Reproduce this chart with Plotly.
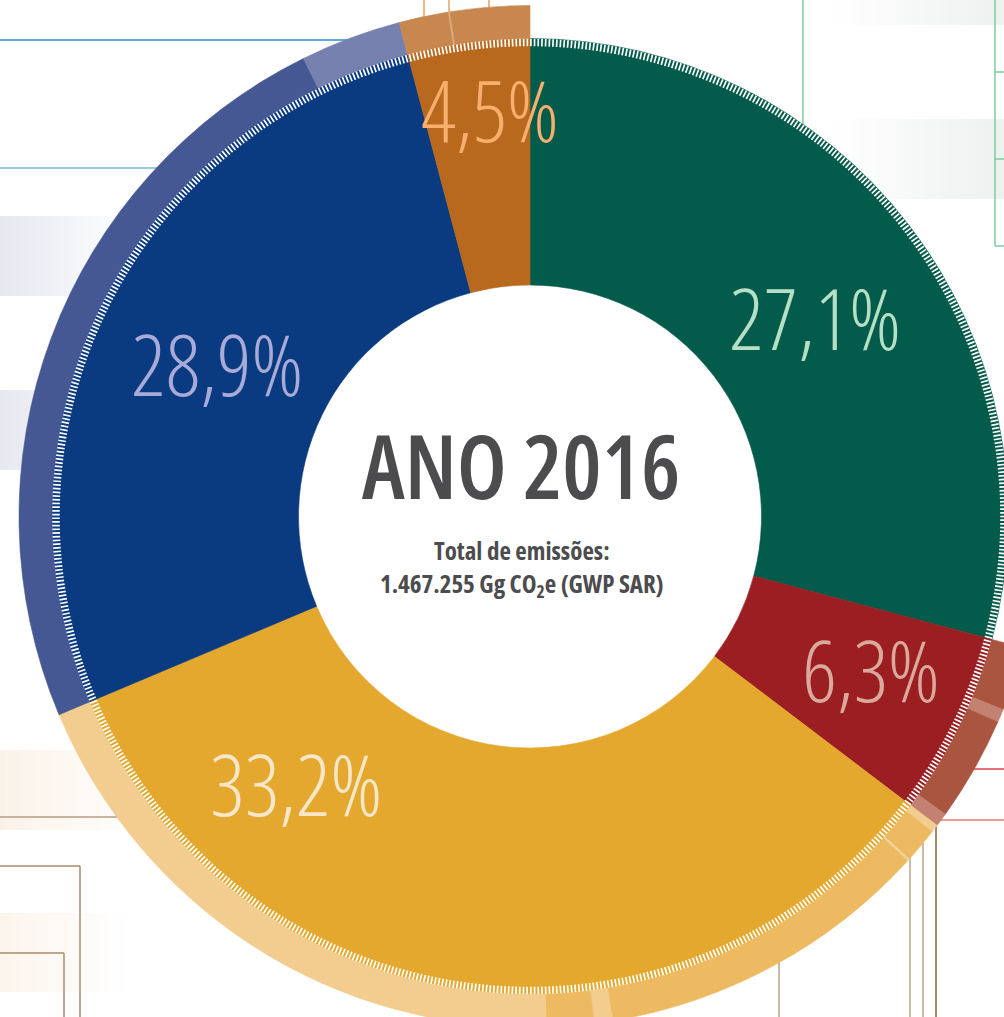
import numpy as np
import plotly.graph_objects as go

# ---------------- data ----------------
sectors = ["Mudança de uso da terra e florestas", "Processos industriais",
           "Agropecuária", "Energia", "Resíduos"]
# arc sizes as drawn (percent of the full circle), clockwise from 12 o'clock
arc_pct = [29.14, 6.19, 33.33, 27.22, 4.12]
# printed labels
label_text = ["27,1%", "6,3%", "33,2%", "28,9%", "4,5%"]

# outer ring sub-segments (percent of circle), per sector, in drawing order
outer_lulucf = []
outer_ippu = [2.03, 0.42, 3.31, 0.44]
outer_agro = [0.25, 1.11, 0.07, 10.65, 0.58, 1.50, 19.17]
outer_energia = [24.03, 3.19]
outer_residuos = [1.56, 0.06, 2.50]

title_text = "ANO 2016"
subtitle_1 = "Total de emissões:"
subtitle_2 = "1.467.255 Gg CO<sub>2</sub>e (GWP SAR)"

# ---------------- styles ----------------
inner_colors = ["#035B4B", "#9A1E22", "#E5A82E", "#0A3A80", "#B8691E"]
label_colors = ["#B5E0C6", "#DBA99C", "#F7E7C9", "#A8ABD7", "#F8AE6C"]
outer_colors = [
    [],
    ["#A9553F", "#C38171", "#A9553F", "#C38171"],
    ["#F2CD8F", "#EDBA61", "#F3D29A", "#EDBA61", "#F2CD8F", "#EDBA61", "#F2CD8F"],
    ["#455893", "#7781B0"],
    ["#C8874E", "#DDA87A", "#C8874E"],
]
outer_values = [outer_lulucf, outer_ippu, outer_agro, outer_energia, outer_residuos]

FONT = "Open Sans"
W, H = 1060, 1033
R_MAX = 516.5
R_HOLE, R_IN, R_OUT = 231.5, 478.0, 511.0

# ---------------- build rings ----------------
deg = np.array(arc_pct) * 3.6
starts = np.concatenate([[0], np.cumsum(deg)[:-1]])

inner = go.Barpolar(
    theta=starts + deg / 2, width=deg, base=[R_HOLE] * len(deg),
    r=[R_IN - R_HOLE] * len(deg),
    marker=dict(color=inner_colors, line=dict(color=inner_colors, width=0.6)),
    hoverinfo="skip", text=sectors,
)

o_theta, o_width, o_col = [], [], []
for i, vals in enumerate(outer_values):
    a = starts[i]
    for v, c in zip(vals, outer_colors[i]):
        w = v * 3.6
        o_theta.append(a + w / 2)
        o_width.append(w)
        o_col.append(c)
        a += w
outer = go.Barpolar(
    theta=o_theta, width=o_width, base=[R_IN] * len(o_theta),
    r=[R_OUT - R_IN] * len(o_theta),
    marker=dict(color=o_col, line=dict(color=o_col, width=0.6)),
    hoverinfo="skip",
)

ring_theta = np.linspace(0, 360, 2881)
ticks = go.Scatterpolar(
    r=np.full(ring_theta.size, 474.0), theta=ring_theta, mode="lines",
    line=dict(color="white", width=7.5, dash="1.7px,2px"),
    hoverinfo="skip",
)

# label placement (theta deg clockwise from top, radius px)
label_theta = [56.66, 115.75, 220.03, 294.33, 354.22]
label_r = [341.1, 378.6, 363.8, 343.5, 397.5]
labels = go.Scatterpolar(
    r=label_r, theta=label_theta, mode="text", text=label_text,
    textfont=dict(family=FONT, weight=320, size=85, color=label_colors),
    hoverinfo="skip",
)

fig = go.Figure([inner, outer, ticks, labels])


def px(x):
    return x / W


def py(y):
    return 1 - y / H


shapes = []


def line(x0, y0, x1, y1, color, width=1.5):
    shapes.append(dict(type="line", xref="paper", yref="paper", layer="below",
                       x0=px(x0), y0=py(y0), x1=px(x1), y1=py(y1),
                       line=dict(color=color, width=width)))


def hex_mix(c, t):
    # mix colour c with white, t=0 -> c, t=1 -> white
    r, g, b = (int(c[i:i + 2], 16) for i in (1, 3, 5))
    r, g, b = (round(v + (255 - v) * t) for v in (r, g, b))
    return "#%02X%02X%02X" % (r, g, b)


def band(x_solid, x_fade, y0, y1, color, n=24):
    # horizontal gradient band: solid colour at x_solid fading to white at x_fade
    for k in range(n):
        xa = x_solid + (x_fade - x_solid) * k / n
        xb = x_solid + (x_fade - x_solid) * (k + 1) / n
        shapes.append(dict(type="rect", xref="paper", yref="paper", layer="below",
                           x0=px(min(xa, xb)), x1=px(max(xa, xb)) + 0.0005,
                           y0=py(y0), y1=py(y1), fillcolor=hex_mix(color, (k + 0.5) / n),
                           line=dict(width=0)))


# left bands
band(0, 135, 216, 296, "#E6E8F0")
band(0, 135, 390, 470, "#E6E8F0")
band(0, 150, 750, 830, "#FAF2E7")
band(0, 130, 913, 992, "#FBF5EC")
# right bands (fade toward the left)
band(1004, 830, 0, 25, "#EDF1EF")
band(1004, 830, 119, 199, "#EDF1EF")

# left blue leader lines
line(0, 40, 370, 40, "#2B8DC9")
line(0, 168, 175, 168, "#7AB8DB")
# left bottom brown leader lines
line(0, 817, 125, 817, "#B49C84")
line(0, 866, 80, 866, "#A88A6E")
line(80, 866, 80, H, "#A88A6E")
line(0, 953, 64, 953, "#A88A6E")
line(64, 953, 64, H, "#A88A6E")
# bottom vertical lines
line(779, 950, 779, H, "#BAA58A")
line(910, 855, 910, H, "#BAA58A")
line(923, 840, 923, H, "#BAA58A")
line(936, 825, 936, H, "#8E6238")
# right red lines
line(960, 769, W, 769, "#D2464A")
line(930, 820, W, 820, "#E37B7E")
# right green lines
line(803, 0, 803, 135, "#7DCB9F")
line(995, 0, 995, 246, "#7DCB9F")
for yy in (72, 159, 246):
    line(995, yy, W, yy, "#7DCB9F")
# top orange lines
for xx in (424, 449, 489):
    line(xx, 0, xx, 25, "#E9A062")

annotations = [
    dict(text=title_text, x=px(521), y=py(465), xref="paper", yref="paper",
         showarrow=False, xanchor="center", yanchor="middle",
         font=dict(family=FONT, weight=600, size=88, color="#4C4C4E")),
    dict(text=subtitle_1 + "<br>" + subtitle_2, x=px(522), y=py(568),
         xref="paper", yref="paper", align="center",
         showarrow=False, xanchor="center", yanchor="middle",
         font=dict(family=FONT, weight=700, size=25, color="#4C4C4E")),
]

fig.update_layout(
    width=W, height=H, margin=dict(l=0, r=0, t=0, b=0, pad=0),
    paper_bgcolor="white", showlegend=False,
    shapes=shapes, annotations=annotations,
    polar=dict(
        domain=dict(x=[0, 1], y=[0, 1]),
        bgcolor="rgba(0,0,0,0)",
        radialaxis=dict(visible=False, range=[0, R_MAX]),
        angularaxis=dict(visible=False, rotation=90, direction="clockwise"),
    ),
)

post = ("document.body.style.margin='0';document.body.style.overflow='hidden';"
        "document.querySelectorAll('.main-svg text').forEach(function(t){"
        "t.style.fontStretch='condensed';});")

fig.write_html("out.html", config=dict(displayModeBar=False), post_script=post)
